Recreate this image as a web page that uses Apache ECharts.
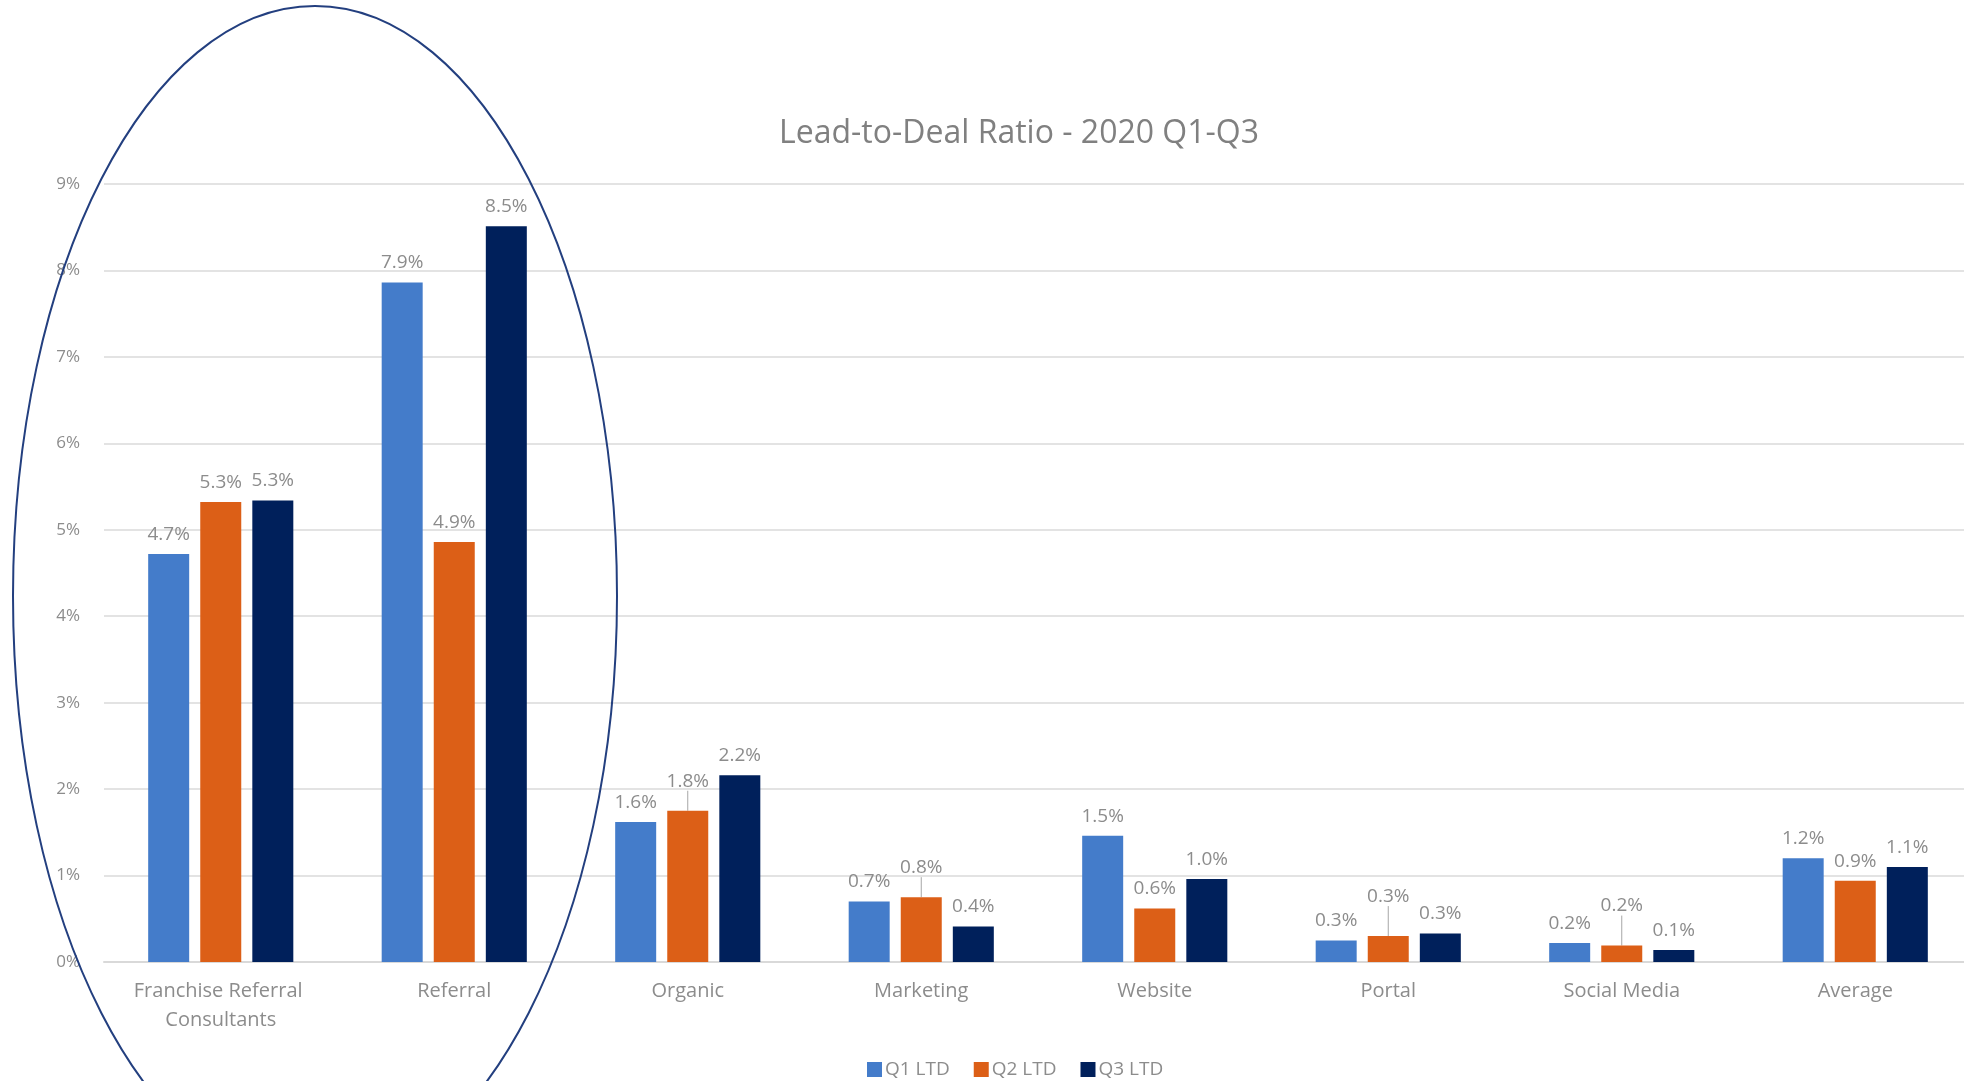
<!DOCTYPE html>
<html>
<head>
<meta charset="utf-8">
<title>Lead-to-Deal Ratio - 2020 Q1-Q3</title>
<script src="https://cdn.jsdelivr.net/npm/echarts@6/dist/echarts.min.js"></script>
<style>
  html, body { margin: 0; padding: 0; background: #fff; }
  #chart { width: 1964px; height: 1081px; }
</style>
</head>
<body>
<div id="chart"></div>
<script>
// data (percent)
var categories = ['Franchise Referral Consultants', 'Referral', 'Organic', 'Marketing',
                  'Website', 'Portal', 'Social Media', 'Average'];
var seriesNames = ['Q1 LTD', 'Q2 LTD', 'Q3 LTD'];
var q1 = [4.72, 7.86, 1.62, 0.70, 1.46, 0.25, 0.22, 1.20];
var q2 = [5.32, 4.86, 1.75, 0.75, 0.62, 0.30, 0.19, 0.94];
var q3 = [5.34, 8.51, 2.16, 0.41, 0.96, 0.33, 0.14, 1.10];
var yTicks = [0, 1, 2, 3, 4, 5, 6, 7, 8, 9];

var chart = echarts.init(document.getElementById('chart'));

var grey = '#8c8c8c';
var font = 'Open Sans';
var colors = ['#447cca', '#dc5f17', '#00205b'];

// Q2 labels that were pulled up with a leader line in the original
var q2Lift = { 2: 10, 3: 10, 5: 20, 6: 20 };

function makeSeries(name, values, idx) {
    var s = {
        name: name,
        type: 'bar',
        barWidth: 41,
        barGap: '27%',
        itemStyle: { color: colors[idx] },
        label: {
            show: true,
            position: 'top',
            distance: 10,
            color: grey,
            fontSize: 19,
            fontFamily: font,
            formatter: function (p) { return p.value.toFixed(1) + '%'; }
        },
        data: values
    };
    if (idx === 1) {
        s.data = values.map(function (v, i) {
            return q2Lift[i] ? { value: v, labelLine: { show: true } } : v;
        });
        s.labelLine = { show: false, lineStyle: { color: '#a6a6a6', width: 1 } };
        s.labelLayout = function (p) {
            var lift = q2Lift[p.dataIndex];
            return lift ? { dy: -lift } : {};
        };
    }
    return s;
}

var option = {
    backgroundColor: '#fff',
    animation: false,
    color: colors,
    title: {
        text: 'Lead-to-Deal Ratio - 2020 Q1-Q3',
        left: 774,
        top: 113,
        textStyle: { color: '#808080', fontSize: 32, fontWeight: 'normal', fontFamily: font }
    },
    legend: {
        data: seriesNames,
        left: 862,
        top: 1055,
        icon: 'rect',
        itemWidth: 15,
        itemHeight: 15,
        itemGap: 24,
        textStyle: { color: grey, fontSize: 19, fontFamily: font, padding: [0, 0, 0, -2] }
    },
    // plot runs slightly past the right edge of the picture
    grid: {
        left: 104, width: 1868, top: 184, bottom: 119,
        containLabel: false, outerBoundsMode: 'none'
    },
    xAxis: {
        type: 'category',
        data: categories,
        axisTick: { show: false },
        axisLine: { lineStyle: { color: '#d9d9d9', width: 2 } },
        axisLabel: {
            interval: 0,
            color: grey,
            fontSize: 20,
            fontFamily: font,
            lineHeight: 29,
            margin: 15,
            width: 220,
            overflow: 'break'
        }
    },
    yAxis: {
        type: 'value',
        min: yTicks[0],
        max: yTicks[yTicks.length - 1],
        interval: 1,
        axisLine: { show: false },
        axisTick: { show: false },
        axisLabel: { color: grey, fontSize: 17, fontFamily: font, margin: 24, formatter: '{value}%' },
        splitLine: { lineStyle: { color: '#e3e3e3', width: 2 } }
    },
    graphic: [{
        type: 'ellipse',
        silent: true,
        z: 100,
        shape: { cx: 315, cy: 596, rx: 302, ry: 590 },
        style: { fill: 'none', stroke: '#233f7f', lineWidth: 2 }
    }],
    series: [
        makeSeries(seriesNames[0], q1, 0),
        makeSeries(seriesNames[1], q2, 1),
        makeSeries(seriesNames[2], q3, 2)
    ]
};

chart.setOption(option);
</script>
</body>
</html>
